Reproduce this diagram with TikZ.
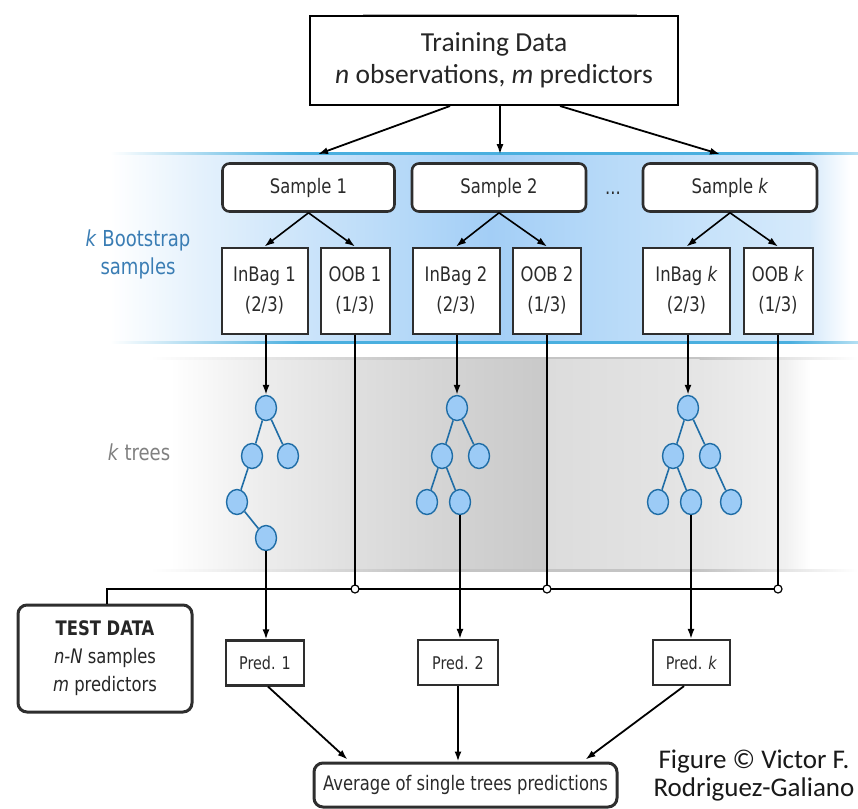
\documentclass[tikz,border=0pt]{standalone}
\usepackage{fontspec}
\setmainfont{Carlito}
\newfontfamily\tah[FakeStretch=0.82]{DejaVu Sans}
\usetikzlibrary{arrows.meta,calc,shapes.geometric}
\definecolor{boxline}{HTML}{2E2E2E}
\definecolor{txt}{HTML}{2B2B2B}
\definecolor{bslabel}{HTML}{3A7DB4}
\definecolor{treelabel}{HTML}{808080}
\definecolor{leaf}{HTML}{9CCBF6}
\definecolor{leafline}{HTML}{1F6DA6}
\definecolor{cyanline}{HTML}{4AAFDF}
\definecolor{cyanlight}{HTML}{B5E0F3}
\definecolor{bA}{HTML}{E4F1FC}
\definecolor{bB}{HTML}{CDE5FA}
\definecolor{bC}{HTML}{B2D7F8}
\definecolor{bD}{HTML}{A3CEF6}
\definecolor{bE}{HTML}{B4D8F8}
\definecolor{bF}{HTML}{C6E2FA}
\definecolor{bG}{HTML}{D6EAFB}
\definecolor{gA}{HTML}{EDEDED}
\definecolor{gB}{HTML}{DFDFDF}
\definecolor{gC}{HTML}{D1D1D1}
\definecolor{gD}{HTML}{C9C9C9}
\definecolor{gE}{HTML}{DCDCDC}
\definecolor{gF}{HTML}{E5E5E5}
\definecolor{gG}{HTML}{F0F0F0}
\definecolor{gedge}{HTML}{C4C4C4}
\begin{document}
\begin{tikzpicture}[x=1pt,y=-1pt,
  samplebox/.style={draw=boxline,line width=2.6pt,rounded corners=7pt,fill=white,minimum width=172pt,minimum height=48pt,inner sep=0pt,font=\tah\fontsize{20}{24}\selectfont,text=txt},
  bagbox/.style={draw=boxline,line width=2pt,fill=white,minimum height=86pt,inner sep=0pt,align=center,font=\tah\fontsize{20}{30}\selectfont,text=txt},
  predbox/.style={draw=boxline,line width=2.2pt,fill=white,minimum height=45pt,inner sep=0pt,font=\tah\fontsize{17.5}{20}\selectfont,text=txt},
  leafnode/.style={ellipse,draw=leafline,fill=leaf,line width=1.4pt,minimum width=21pt,minimum height=25pt,inner sep=0pt},
  branch/.style={leafline,line width=1.6pt},
  arr/.style={-{Latex[length=10pt,width=7pt]},line width=1.8pt,black},
  plainline/.style={line width=1.8pt,black},
  junction/.style={circle,draw=black,fill=white,line width=1.2pt,minimum size=8pt,inner sep=0pt},
  creditstyle/.style={anchor=base,inner sep=0pt,font=\fontsize{27}{27}\selectfont,text=black!90},
]
\useasboundingbox[fill=white] (0,0) rectangle (858,808);

% ---------- blue bootstrap band ----------
\foreach \xa/\xb/\ca/\cb in {110/200/white/bA,199.5/300/bA/bB,299.5/420/bB/bC,419.5/490/bC/bD,489.5/590/bD/bE,589.5/700/bE/bF,699.5/810/bF/bG,809.5/850/bG/white}
  \shade[left color=\ca,right color=\cb] (\xa,154) rectangle (\xb,342);
\shade[left color=white,right color=cyanline] (110,152) rectangle (300,154.5);
\fill[cyanline] (299.5,152) rectangle (790,154.5);
\shade[left color=cyanline,right color=cyanlight] (789.5,152) rectangle (858,154.5);
\shade[left color=white,right color=cyanline] (110,341) rectangle (300,343.5);
\fill[cyanline] (299.5,341) rectangle (790,343.5);
\shade[left color=cyanline,right color=cyanlight] (789.5,341) rectangle (858,343.5);

% ---------- gray trees band ----------
\foreach \xa/\xb/\ca/\cb in {170/260/white/gA,259.5/355/gA/gB,354.5/470/gB/gC,469.5/546/gC/gD,547/700/gE/gF,699.5/785/gF/gG,784.5/810/gG/white}
  \shade[left color=\ca,right color=\cb] (\xa,358) rectangle (\xb,570);
\fill[gD] (545.5,358) rectangle (547.5,570);
\shade[left color=white,right color=gedge] (150,357) rectangle (420,359);
\fill[gedge] (419.5,357) rectangle (700,359);
\shade[left color=gedge,right color=white] (699.5,357) rectangle (858,359);
\shade[left color=white,right color=gedge] (150,569) rectangle (420,571.5);
\fill[gedge] (419.5,569) rectangle (700,571.5);
\shade[left color=gedge,right color=white] (699.5,569) rectangle (858,571.5);

% faint line above the training box
\draw[line width=1.5pt,black!30] (363,15) -- (637,15);

% ---------- side labels ----------
\node[font=\tah\fontsize{22}{28}\selectfont,text=bslabel,align=center] (bslab) at (138,254) {\textit{k} Bootstrap\\samples};
\node[font=\tah\fontsize{22}{28}\selectfont,text=treelabel] (treelab) at (139,452) {\textit{k} trees};

% ---------- training data ----------
\node[draw=black,line width=2pt,fill=white,minimum width=368pt,minimum height=89pt,inner sep=0pt,align=center,font=\fontsize{27.5}{32}\selectfont,text=black!85] (train) at (494,60.5)
  {Training Data\\\textit{n} observations, \textit{m} predictors};

% ---------- samples ----------
\node[samplebox] (s1) at (308.5,187.5) {Sample 1};
\node[samplebox,minimum width=174pt] (s2) at (499,187.5) {Sample 2};
\node[samplebox,minimum width=174pt] (sk) at (730,187.5) {Sample \textit{k}};
\node[font=\tah\fontsize{20}{24}\selectfont,text=txt,anchor=base] (dots) at (613,194) {...};

\node[bagbox,minimum width=86pt] (in1) at (264.5,290.5) {InBag 1\\(2/3)};
\node[bagbox,minimum width=69pt] (oob1) at (355,290.5) {OOB 1\\(1/3)};
\node[bagbox,minimum width=87pt] (in2) at (456,290.5) {InBag 2\\(2/3)};
\node[bagbox,minimum width=68pt] (oob2) at (547,290.5) {OOB 2\\(1/3)};
\node[bagbox,minimum width=87pt] (ink) at (686.5,290.5) {InBag \textit{k}\\(2/3)};
\node[bagbox,minimum width=69pt] (oobk) at (778,290.5) {OOB \textit{k}\\(1/3)};

% ---------- trees ----------
\node[leafnode] (t1a) at (266,408) {};
\node[leafnode] (t1b) at (252,456) {};
\node[leafnode] (t1c) at (288,456) {};
\node[leafnode] (t1d) at (237,502) {};
\node[leafnode] (t1e) at (266,538) {};
\node[leafnode] (t2a) at (457,408) {};
\node[leafnode] (t2b) at (442,456) {};
\node[leafnode] (t2c) at (479,456) {};
\node[leafnode] (t2d) at (427,502) {};
\node[leafnode] (t2e) at (460,502) {};
\node[leafnode] (tka) at (688,408) {};
\node[leafnode] (tkb) at (673,456) {};
\node[leafnode] (tkc) at (710,456) {};
\node[leafnode] (tkd) at (658,502) {};
\node[leafnode] (tke) at (691,502) {};
\node[leafnode] (tkf) at (731,502) {};
\foreach \p/\c in {t1a/t1b,t1a/t1c,t1b/t1d,t1d/t1e,t2a/t2b,t2a/t2c,t2b/t2d,t2b/t2e,tka/tkb,tka/tkc,tkb/tkd,tkb/tke,tkc/tkf}
  \draw[branch] (\p) -- (\c);

% ---------- predictions ----------
\node[predbox,minimum width=78pt] (pred1) at (265,663) {Pred. 1};
\node[predbox,minimum width=80pt] (pred2) at (458,662.5) {Pred. 2};
\node[predbox,minimum width=77pt] (predk) at (691.5,662.5) {Pred. \textit{k}};

\node[draw=boxline,line width=3pt,rounded corners=9pt,fill=white,minimum width=174pt,minimum height=107pt,inner sep=0pt,align=center,font=\tah\fontsize{20}{28}\selectfont,text=black!85] (test) at (105,658.5)
  {\textbf{TEST DATA}\\\textit{n-N} samples\\\textit{m} predictors};

\node[draw=boxline,line width=3pt,rounded corners=9pt,fill=white,minimum width=303pt,minimum height=44pt,inner sep=0pt,font=\tah\fontsize{20}{24}\selectfont,text=txt] (avg) at (465.5,785) {Average of single trees predictions};

\node[creditstyle] (credit1) at (754,768) {Figure © Victor F.};
\node[creditstyle] (credit2) at (754,796) {Rodriguez-Galiano};

% ---------- connectors ----------
\draw[arr] ([xshift=-44pt]train.south) -- ([xshift=9.5pt,yshift=8pt]s1.north);
\draw[arr] ([xshift=6pt]train.south) -- ([xshift=1pt,yshift=8pt]s2.north);
\draw[arr] ([xshift=66pt]train.south) -- ([xshift=-10pt,yshift=8pt]sk.north);

\foreach \s/\a/\b in {s1/in1/oob1,s2/in2/oob2,sk/ink/oobk}{
  \draw[arr,line width=1.6pt] (\s.south) -- (\a.north);
  \draw[arr,line width=1.6pt] (\s.south) -- (\b.north);
}

\draw[arr] (in1.south -| t1a.north) -- (t1a.north);
\draw[arr] (in2.south -| t2a.north) -- (t2a.north);
\draw[arr] (ink.south -| tka.north) -- (tka.north);

\coordinate (j1) at (355,589);
\coordinate (j2) at (547,589);
\coordinate (jk) at (778,589);
\draw[plainline] (oob1.south) -- (j1);
\draw[plainline] (oob2.south) -- (j2);
\draw[plainline] (oobk.south) -- (jk);
\draw[plainline,line width=2pt] ([xshift=2pt]test.north) -- ([xshift=2pt]test.north |- j1) -- (jk);

\draw[arr] (t1e.south) -- (t1e.south |- pred1.north);
\draw[arr] (t2e.south) -- (t2e.south |- pred2.north);
\draw[arr] (tke.south) -- (tke.south |- predk.north);

\node[junction] at (j1) {};
\node[junction] at (j2) {};
\node[junction] at (jk) {};

\draw[arr] ([xshift=3pt]pred1.south) -- ([xshift=-118pt,yshift=2pt]avg.north);
\draw[arr] (pred2.south) -- ([xshift=-7.5pt]avg.north);
\draw[arr] ([xshift=-7.5pt]predk.south) -- ([xshift=120pt,yshift=2pt]avg.north);
\end{tikzpicture}
\end{document}
